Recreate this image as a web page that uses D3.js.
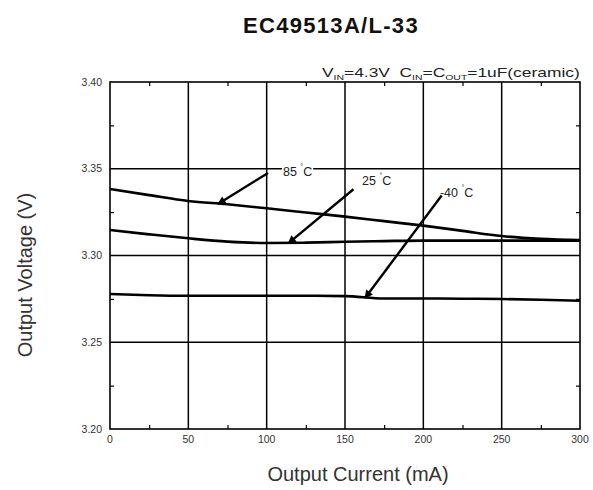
<!DOCTYPE html>
<html><head><meta charset="utf-8">
<script src="https://cdn.jsdelivr.net/npm/d3@7/dist/d3.min.js"></script>
<style>body{margin:0;background:#fff}svg{display:block}</style>
</head><body><svg id="c" width="593" height="490"></svg>
<script>
const currents = [0, 25, 50, 75, 100, 125, 150, 175, 200, 225, 250, 275, 300];
const v85 = [3.3383, 3.3348, 3.3314, 3.3295, 3.3272, 3.3248, 3.3224, 3.3198, 3.3172, 3.3142, 3.3112, 3.3096, 3.3089];
const v25 = [3.3147, 3.3122, 3.3099, 3.3080, 3.3072, 3.3074, 3.3079, 3.3083, 3.3086, 3.3086, 3.3086, 3.3086, 3.3086];
const vm40 = [3.2778, 3.2771, 3.2768, 3.2768, 3.2768, 3.2768, 3.2766, 3.2752, 3.2752, 3.2751, 3.2749, 3.2745, 3.2739];
const xTicks = [0, 50, 100, 150, 200, 250, 300];
const yTicks = [3.20, 3.25, 3.30, 3.35, 3.40];
const labels = [
  {text: "85", x0: 100.9, y0: 3.3476, x1: 68.9, y1: 3.3297, lx: 110.4, ly: 3.3458, bg: true},
  {text: "25", x0: 155.4, y0: 3.3382, x1: 113.8, y1: 3.3070, lx: 160.9, ly: 3.3406, bg: false},
  {text: "-40", x0: 211.7, y0: 3.3346, x1: 162.8, y1: 3.2755, lx: 210.6, ly: 3.3337, bg: false}
];

const svg = d3.select("#c");
const x = d3.scaleLinear().domain([0, 300]).range([110, 580]);
const y = d3.scaleLinear().domain([3.20, 3.40]).range([429, 82]);
const font = "Liberation Sans, Arial, sans-serif";

svg.append("text").attr("x", 331).attr("y", 33).attr("text-anchor", "middle")
  .attr("font-family", font).attr("font-weight", "bold").attr("font-size", 22)
  .attr("letter-spacing", 1.3).attr("fill", "#111").text("EC49513A/L-33");

// conditions
const condG = svg.append("g");
const cond = condG.append("text").attr("x", 0).attr("y", 0)
  .attr("font-family", font).attr("font-size", 12.5).attr("fill", "#222");
cond.append("tspan").text("V");
cond.append("tspan").attr("font-size", 7.5).attr("dy", 3).text("IN");
cond.append("tspan").attr("dy", -3).text("=4.3V\u00a0\u00a0C");
cond.append("tspan").attr("font-size", 7.5).attr("dy", 3).text("IN");
cond.append("tspan").attr("dy", -3).text("=C");
cond.append("tspan").attr("font-size", 7.5).attr("dy", 3).text("OUT");
cond.append("tspan").attr("dy", -3).text("=1uF(ceramic)");
const cw = cond.node().getBBox().width;
const sx = 258 / cw;
condG.attr("transform", `translate(${580 - 258},77) scale(${sx},1)`);

// grid
const g = svg.append("g");
g.selectAll("line.vg").data(xTicks.slice(1, -1)).join("line").attr("class", "vg")
  .attr("x1", d => x(d)).attr("x2", d => x(d)).attr("y1", y(3.40)).attr("y2", y(3.20))
  .attr("stroke", "#000").attr("stroke-width", 1.5);
g.selectAll("line.hg").data(yTicks.slice(1, -1)).join("line").attr("class", "hg")
  .attr("y1", d => y(d)).attr("y2", d => y(d)).attr("x1", x(0)).attr("x2", x(300))
  .attr("stroke", "#000").attr("stroke-width", 1.5);

// axes with minor inner ticks
const minorX = d3.range(25, 300, 50);
const minorY = [3.225, 3.275, 3.325, 3.375];
const axB = d3.axisBottom(x).tickValues(minorX).tickSize(-4).tickFormat("");
const axT = d3.axisTop(x).tickValues(minorX).tickSize(-4).tickFormat("");
const axL = d3.axisLeft(y).tickValues(minorY).tickSize(-4).tickFormat("");
const axR = d3.axisRight(y).tickValues(minorY).tickSize(-4).tickFormat("");
[[axB, `translate(0,${y(3.20)})`], [axT, `translate(0,${y(3.40)})`], [axL, `translate(${x(0)},0)`], [axR, `translate(${x(300)},0)`]]
  .forEach(([a, t]) => {
    const s = svg.append("g").attr("transform", t).call(a);
    s.select(".domain").remove();
    s.selectAll("line").attr("stroke", "#000").attr("stroke-width", 1.2);
  });
svg.append("rect").attr("x", x(0)).attr("y", y(3.40)).attr("width", x(300) - x(0)).attr("height", y(3.20) - y(3.40))
  .attr("fill", "none").attr("stroke", "#000").attr("stroke-width", 1.6);

// tick labels
svg.selectAll("text.xl").data(xTicks).join("text").attr("class", "xl")
  .attr("x", d => x(d)).attr("y", 443).attr("text-anchor", "middle")
  .attr("font-family", font).attr("font-size", 10.5).attr("fill", "#333").text(d => d);
svg.selectAll("text.yl").data(yTicks).join("text").attr("class", "yl")
  .attr("x", 102).attr("y", d => y(d)).attr("dy", "0.35em").attr("text-anchor", "end")
  .attr("font-family", font).attr("font-size", 10.5).attr("fill", "#333").text(d => d.toFixed(2));

// axis titles
svg.append("text").attr("x", 358).attr("y", 481).attr("text-anchor", "middle")
  .attr("font-family", font).attr("font-size", 20).attr("fill", "#333").text("Output Current (mA)");
svg.append("text").attr("transform", "translate(32,275) rotate(-90)").attr("text-anchor", "middle")
  .attr("font-family", font).attr("font-size", 20).attr("fill", "#333").text("Output Voltage (V)");

// curves
const line = d3.line().x((d, i) => x(currents[i])).y(d => y(d)).curve(d3.curveMonotoneX);
[v85, v25, vm40].forEach(s => {
  svg.append("path").datum(s).attr("d", line).attr("fill", "none")
    .attr("stroke", "#000").attr("stroke-width", 2.6).attr("stroke-linejoin", "round");
});

// arrows and labels
const defs = svg.append("defs");
defs.append("marker").attr("id", "ah").attr("viewBox", "0 0 10 10").attr("refX", 9).attr("refY", 5)
  .attr("markerWidth", 4.5).attr("markerHeight", 3.5).attr("orient", "auto")
  .append("path").attr("d", "M0,0 L10,5 L0,10 z").attr("fill", "#000");
labels.forEach(l => {
  svg.append("line").attr("x1", x(l.x0)).attr("y1", y(l.y0)).attr("x2", x(l.x1)).attr("y2", y(l.y1))
    .attr("stroke", "#000").attr("stroke-width", 2.4).attr("marker-end", "url(#ah)");
  const lg = svg.append("g");
  const bgRect = lg.append("rect").attr("fill", "#fff");
  const t = lg.append("text").attr("x", x(l.lx)).attr("y", y(l.ly))
    .attr("font-family", font).attr("font-size", 12.5).attr("fill", "#222");
  t.append("tspan").text(l.text + "\u00a0");
  t.append("tspan").attr("font-size", 7).attr("dy", -7).text("°");
  t.append("tspan").attr("dy", 7).text("C");
  if (l.bg) {
    const bb = t.node().getBBox();
    bgRect.attr("x", bb.x - 1).attr("y", bb.y).attr("width", bb.width + 2).attr("height", bb.height);
  } else {
    bgRect.remove();
  }
});
</script></body></html>
